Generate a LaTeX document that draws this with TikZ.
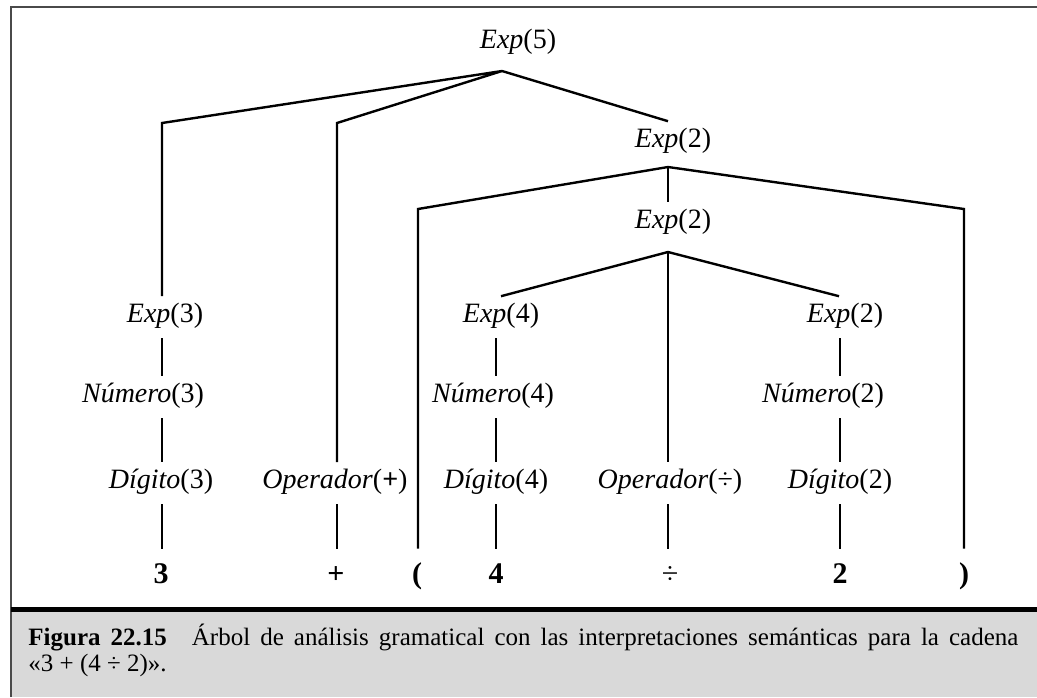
\documentclass[tikz,border=0pt]{standalone}
\usepackage{fontspec}
\setmainfont{Liberation Serif}
\usetikzlibrary{positioning}
\definecolor{capgray}{HTML}{D9D9D9}
\definecolor{framegray}{HTML}{4A4A4A}

\begin{document}
\begin{tikzpicture}[
			x=0.5pt, y=-0.5pt,
			every node/.style={font=\fontsize{14}{16}\selectfont},
			%% Node styles
			lab/.style={anchor=base, inner sep=3.5pt, text height=9.2pt, text depth=4.5pt},
			term/.style={anchor=base, inner xsep=3.5pt, inner ysep=7pt, text height=10pt, text depth=0pt,
				font=\fontsize{15}{17}\selectfont},
			capline/.style={anchor=base west, inner sep=0pt, font=\fontsize{12.5}{14}\selectfont},
			%% Line styles
			edge/.style={line width=1.2pt},
			]
			\useasboundingbox (0,0) rectangle (1037,697);
			
			%% ── Frame and caption box ────────────────────────────────────────
			\fill[capgray] (12,612) rectangle (1037,697);
			\draw[framegray, line width=1pt] (11,697) -- (11,7) -- (1037,7);
			\draw[line width=2.3pt] (11,609.5) -- (1037,609.5);
			
			%% ── Column guides ────────────────────────────────────────────────
			\coordinate (c1) at (162,0);
			\coordinate (c4) at (496,0);
			\coordinate (c5) at (668,0);
			\coordinate (c6) at (840,0);
			
			%% ── Nodes (top to bottom) ────────────────────────────────────────
			\node[lab] (e5)  at (518,48)  {\textit{Exp}(5)};
			\node[lab] (e2a) at (673,147) {\textit{Exp}(2)};
			\node[lab] (e2b) at (673,228) {\textit{Exp}(2)};
			
			\node[lab] (e3)  at (165,322) {\textit{Exp}(3)};
			\node[lab] (e4)  at (501,322) {\textit{Exp}(4)};
			\node[lab] (e2c) at (845,322) {\textit{Exp}(2)};
			
			\node[lab] (n3)  at (143,402) {\textit{Número}(3)};
			\node[lab] (n4)  at (493,402) {\textit{Número}(4)};
			\node[lab] (n2)  at (823,402) {\textit{Número}(2)};
			
			\node[lab] (d3)  at (161,488) {\textit{Dígito}(3)};
			\node[lab] (op1) at (335,488) {\textit{Operador}(\textbf{+})};
			\node[lab] (d4)  at (496,488) {\textit{Dígito}(4)};
			\node[lab] (op2) at (670,488) {\textit{Operador}(÷)};
			\node[lab] (d2)  at (840,488) {\textit{Dígito}(2)};
			
			%% Terminals
			\node[term] (t3)  at (161,583) {\textbf{3}};
			\node[term] (tp)  at (336,583) {\textbf{+}};
			\node[term] (lp)  at (417,583) {\textbf{(}};
			\node[term] (t4)  at (496,583) {\textbf{4}};
			\node[term] (td)  at (670,583) {÷};
			\node[term] (t2)  at (840,583) {\textbf{2}};
			\node[term] (rp)  at (964,583) {\textbf{)}};
			
			%% ── Branch points ────────────────────────────────────────────────
			\coordinate (a5)  at (502,71);
			\coordinate (k3)  at (162,123);
			\coordinate (kop) at (337,123);
			\coordinate (a2)  at (668,167);
			\coordinate (klp) at (418,209);
			\coordinate (krp) at (964,209);
			\coordinate (a2b) at (668,252);
			
			%% ── Branches ─────────────────────────────────────────────────────
			\draw[edge] (e3.north -| k3) -- (k3) -- (a5) -- (kop) -- (op1.north -| kop);
			\draw[edge] (a5) -- (e2a.north -| c5);
			\draw[edge] (lp.north -| klp) -- (klp) -- (a2) -- (krp) -- (rp.north -| krp);
			\draw[edge] (a2) -- (e2b.north -| c5);
			\draw[edge] (e4.north) -- (a2b) -- ([xshift=-3pt]e2c.north);
			\draw[edge] (a2b) -- (op2.north -| a2b);
			
			%% ── Vertical chains ──────────────────────────────────────────────
			\draw[edge] (e3.south -| c1) -- (n3.north -| c1);
			\draw[edge] (n3.south -| c1) -- (d3.north -| c1);
			\draw[edge] (d3.south -| c1) -- (t3.north -| c1);
			
			\draw[edge] (op1.south -| kop) -- (tp.north -| kop);
			
			\draw[edge] (e4.south -| c4) -- (n4.north -| c4);
			\draw[edge] (n4.south -| c4) -- (d4.north -| c4);
			\draw[edge] (d4.south -| c4) -- (t4.north -| c4);
			
			\draw[edge] (op2.south -| c5) -- (td.north -| c5);
			
			\draw[edge] (e2c.south -| c6) -- (n2.north -| c6);
			\draw[edge] (n2.south -| c6) -- (d2.north -| c6);
			\draw[edge] (d2.south -| c6) -- (t2.north -| c6);
			
			%% ── Caption ──────────────────────────────────────────────────────
			\node[capline] (cap1) at (28,645)
			{\makebox[495pt][s]{\textbf{Figura 22.15}\quad Árbol de análisis gramatical con las interpretaciones semánticas para la cadena}};
			\node[capline] (cap2) at (28,671) {«3 + (4 ÷ 2)».};
			
		\end{tikzpicture}
\end{document}
